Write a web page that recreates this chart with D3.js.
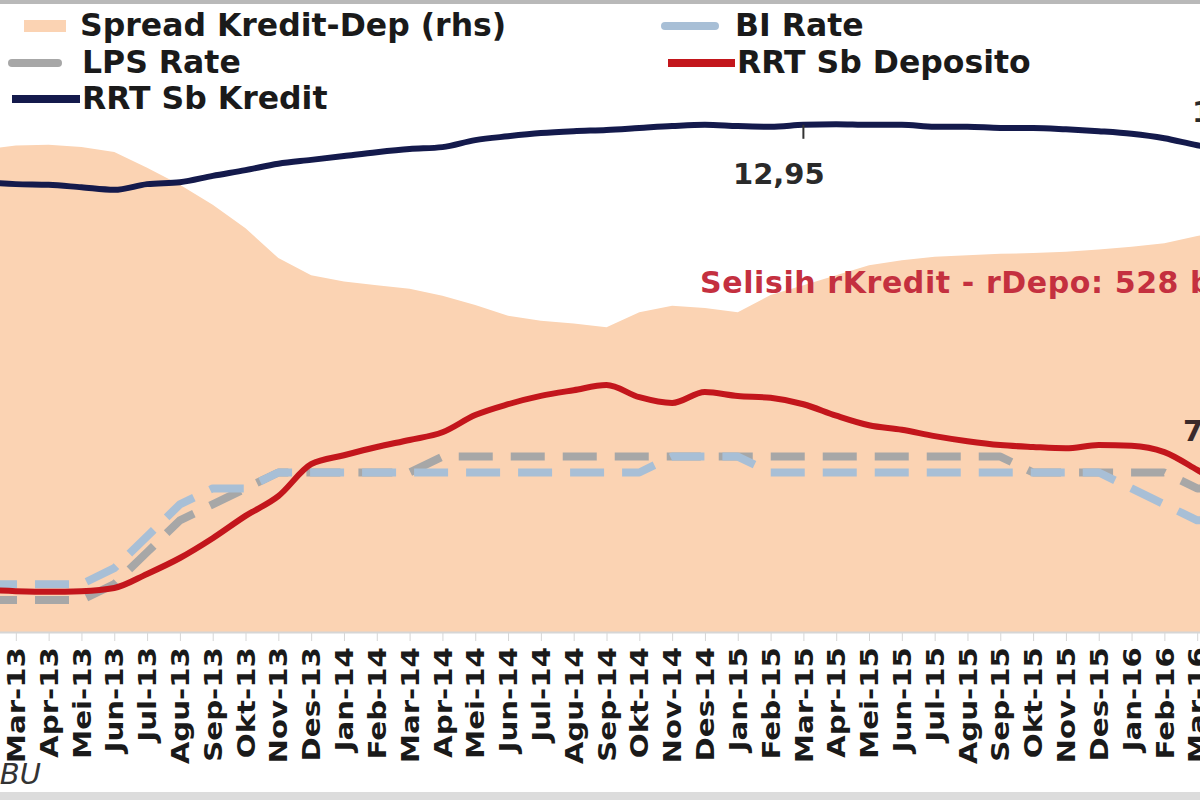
<html>
<head>
<script src="https://d3js.org/d3.v7.min.js"></script>
<style>
  body { margin: 0; background: #fff; font-family: 'DejaVu Sans', Verdana, sans-serif; }
</style>
</head>
<body>
<svg id="vis" width="1200" height="800"></svg>
<script>

// monthly categories, Feb-13 .. Apr-16 (the visible frame shows Mar-13 .. Mar-16)
var months = ["Feb-13","Mar-13","Apr-13","Mei-13","Jun-13","Jul-13","Agu-13","Sep-13","Okt-13","Nov-13","Des-13",
  "Jan-14","Feb-14","Mar-14","Apr-14","Mei-14","Jun-14","Jul-14","Agu-14","Sep-14","Okt-14","Nov-14","Des-14",
  "Jan-15","Feb-15","Mar-15","Apr-15","Mei-15","Jun-15","Jul-15","Agu-15","Sep-15","Okt-15","Nov-15","Des-15",
  "Jan-16","Feb-16","Mar-16","Apr-16"]

// RRT Sb Kredit (%)
var kredit = [12.05,12.02,12.01,11.97,11.93,12.02,12.05,12.15,12.24,12.34,12.40,12.46,12.52,12.57,12.60,12.71,
  12.77,12.82,12.85,12.87,12.90,12.93,12.95,12.93,12.92,12.95,12.96,12.95,12.95,12.92,12.92,12.90,12.90,12.88,
  12.85,12.81,12.74,12.63,12.55]

// RRT Sb Deposito (%)
var deposito = [5.66,5.64,5.63,5.64,5.69,5.91,6.16,6.47,6.82,7.13,7.63,7.77,7.90,8.01,8.13,8.40,8.57,8.70,8.79,
  8.87,8.68,8.59,8.76,8.70,8.67,8.57,8.39,8.24,8.17,8.07,7.99,7.93,7.90,7.88,7.93,7.92,7.82,7.54,7.23]

// BI Rate (%)
var biRate = [5.75,5.75,5.75,5.75,6.0,6.5,7.0,7.25,7.25,7.5,7.5,7.5,7.5,7.5,7.5,7.5,7.5,7.5,7.5,7.5,7.5,
  7.75,7.75,7.75,7.5,7.5,7.5,7.5,7.5,7.5,7.5,7.5,7.5,7.5,7.5,7.25,7.0,6.75,6.75]

// LPS Rate (%)
var lpsRate = [5.5,5.5,5.5,5.5,5.75,6.25,6.75,7.0,7.25,7.5,7.5,7.5,7.5,7.5,7.75,7.75,7.75,7.75,7.75,7.75,7.75,
  7.75,7.75,7.75,7.75,7.75,7.75,7.75,7.75,7.75,7.75,7.75,7.5,7.5,7.5,7.5,7.5,7.25,7.25]

// Spread Kredit-Dep (rhs, % pts)
var spread = [6.47,6.53,6.54,6.51,6.44,6.22,5.98,5.70,5.37,4.95,4.71,4.62,4.57,4.52,4.42,4.29,4.14,4.07,4.03,
  3.98,4.19,4.28,4.25,4.19,4.43,4.57,4.71,4.85,4.92,4.97,4.99,5.01,5.02,5.04,5.07,5.11,5.16,5.26,5.35]

var legendItems = [
  {name: "Spread Kredit-Dep (rhs)", key: "spread"},
  {name: "BI Rate", key: "bi"},
  {name: "LPS Rate", key: "lps"},
  {name: "RRT Sb Deposito", key: "dep"},
  {name: "RRT Sb Kredit", key: "kre"}
]

var styles = {
  spread: {color: "#fbd3b3", width: 12, dash: null},
  bi:     {color: "#a8bfd6", width: 8, dash: "34,18"},
  lps:    {color: "#a7a7a7", width: 8, dash: "34,18"},
  dep:    {color: "#c3161c", width: 6, dash: null},
  kre:    {color: "#141a4c", width: 6, dash: null}
}

var svg = d3.select("#vis")
var base = 632

var x = d3.scalePoint()
  .domain(months)
  .range([-17, 1230])

var y = d3.scaleLinear()
  .domain([5, 15])
  .range([base, -6])

var yR = d3.scaleLinear()
  .domain([-0.3, 8.7])
  .range([base, -9])

// frame strips
svg.append("rect").attr("x", 0).attr("y", 0).attr("width", 1200).attr("height", 4).style("fill", "#b9b9b9")
svg.append("rect").attr("x", 0).attr("y", 792).attr("width", 1200).attr("height", 8).style("fill", "#dcdcdc")

// spread area
svg.append("path")
  .datum(spread)
  .attr("d", d3.area()
    .x((d, i) => x(months[i]))
    .y0(base)
    .y1(d => yR(d)))
  .style("fill", styles.spread.color)

function drawLine(values, st, curve) {
  svg.append("path")
    .datum(values)
    .attr("d", d3.line()
      .x((d, i) => x(months[i]))
      .y(d => y(d))
      .curve(curve))
    .style("fill", "none")
    .style("stroke", st.color)
    .style("stroke-width", st.width)
    .style("stroke-dasharray", st.dash)
    .style("stroke-linejoin", "round")
}

drawLine(lpsRate, styles.lps, d3.curveLinear)
drawLine(biRate, styles.bi, d3.curveLinear)
drawLine(deposito, styles.dep, d3.curveMonotoneX)
drawLine(kredit, styles.kre, d3.curveMonotoneX)

// x axis
var xAxis = svg.append("g")
  .attr("transform", `translate(0,${base})`)
  .call(d3.axisBottom(x).tickSize(9))

xAxis.select(".domain").style("stroke", "#d6d6d6").style("stroke-width", 2)
xAxis.selectAll(".tick line").style("stroke", "#d6d6d6")
xAxis.selectAll(".tick text")
  .attr("x", 0)
  .attr("y", 0)
  .attr("dy", "0.36em")
  .attr("transform", "translate(0,15) rotate(-90) scale(1.22,1)")
  .style("text-anchor", "end")
  .style("font-family", "'DejaVu Sans', sans-serif")
  .style("font-size", "24px")
  .style("font-weight", "bold")
  .style("fill", "#1a1a1a")

// annotations
var iMar15 = months.indexOf("Mar-15")
svg.append("line")
  .attr("x1", x(months[iMar15])).attr("x2", x(months[iMar15]))
  .attr("y1", y(kredit[iMar15])).attr("y2", y(kredit[iMar15]) + 14)
  .style("stroke", "#333").style("stroke-width", 2)

svg.append("text")
  .attr("x", 733).attr("y", 184)
  .text("12,95")
  .style("font-size", "29px").style("font-weight", "bold").style("fill", "#2a2a2a")

svg.append("text")
  .attr("x", 1192).attr("y", 122)
  .text("12,71")
  .style("font-size", "29px").style("font-weight", "bold").style("fill", "#2a2a2a")

svg.append("text")
  .attr("x", 1183).attr("y", 441)
  .text("7,54")
  .style("font-size", "29px").style("font-weight", "bold").style("fill", "#3a2a2a")

svg.append("text")
  .attr("x", 700).attr("y", 293)
  .text("Selisih rKredit - rDepo: 528 bps")
  .style("font-size", "30px").style("font-weight", "bold").style("letter-spacing", "0.6px")
  .style("fill", "#c4303f")

svg.append("text")
  .attr("x", 41).attr("y", 784)
  .text("Sumber: LBU")
  .style("text-anchor", "end")
  .style("font-size", "29px").style("font-style", "italic").style("fill", "#333")

// legend: [swatch start, swatch end, text x, baseline]
var legendPos = [[24, 66, 80, 36], [665, 715, 735, 36], [12, 58, 82, 73], [668, 735, 737, 73], [12, 80, 82, 109]]
legendItems.forEach(function(it, k) {
  var p = legendPos[k], st = styles[it.key]
  svg.append("line")
    .attr("x1", p[0]).attr("x2", p[1])
    .attr("y1", p[3] - 10).attr("y2", p[3] - 10)
    .style("stroke", st.color)
    .style("stroke-width", it.key === "spread" ? 12 : 8)
    .style("stroke-linecap", (it.key === "bi" || it.key === "lps") ? "round" : "butt")
  svg.append("text")
    .attr("x", p[2]).attr("y", p[3])
    .text(it.name)
    .style("font-size", "31.5px").style("font-weight", "bold").style("fill", "#1a1a1a")
})
</script>
</body>
</html>
